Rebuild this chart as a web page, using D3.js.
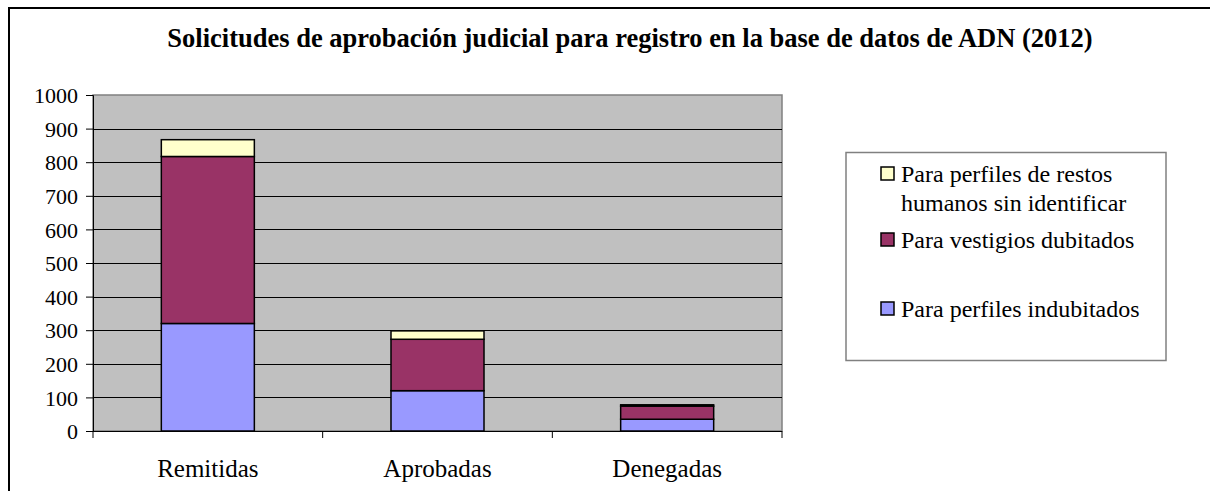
<!DOCTYPE html>
<html>
<head>
<meta charset="utf-8">
<script src="https://cdn.jsdelivr.net/npm/d3@7"></script>
<style>
  body { margin: 0; background: #fff; }
  svg text { font-family: 'Liberation Serif', 'Times New Roman', Times, serif !important; fill: #000; }
</style>
</head>
<body>
<svg id="chart" width="1210" height="491"></svg>
<script>
// donnees
var categorias = ["Remitidas", "Aprobadas", "Denegadas"];
var series = ["indubitados", "dubitados", "restos"];
var perfiles_indubitados = [320, 120, 35];
var vestigios_dubitados = [497, 153, 39];
var restos_humanos = [50, 25, 4];
var yTicks = [0, 100, 200, 300, 400, 500, 600, 700, 800, 900, 1000];

var etiquetas = {
    restos: ["Para perfiles de restos", "humanos sin identificar"],
    dubitados: ["Para vestigios dubitados"],
    indubitados: ["Para perfiles indubitados"]
};
var couleurs = {indubitados: "#9999FF", dubitados: "#993366", restos: "#FFFFCC"};
var police = "'Liberation Serif', 'Times New Roman', serif";

let svg = d3.select("#chart").style("font-family", police);

// cadre exterieur
svg.append("rect")
    .attr("x", 9).attr("y", 8)
    .attr("width", 1220).attr("height", 500)
    .attr("fill", "none").attr("stroke", "#000").attr("stroke-width", 2);

svg.append("text")
    .attr("x", 630).attr("y", 47)
    .attr("text-anchor", "middle")
    .style("font-family", police)
    .style("font-size", "26.5px").style("font-weight", "bold")
    .text("Solicitudes de aprobación judicial para registro en la base de datos de ADN (2012)");

let plot = {left: 93, right: 782, top: 95, bottom: 431};

let data = categorias.map((c, i) => ({
    cat: c,
    indubitados: perfiles_indubitados[i],
    dubitados: vestigios_dubitados[i],
    restos: restos_humanos[i]
}));

let x = d3.scaleBand().domain(categorias).range([plot.left, plot.right]).padding(0);
let y = d3.scaleLinear().domain([0, 1000]).range([plot.bottom, plot.top]);

// fond gris
svg.append("rect")
    .attr("x", plot.left).attr("y", plot.top)
    .attr("width", plot.right - plot.left).attr("height", plot.bottom - plot.top)
    .attr("fill", "#C0C0C0").attr("stroke", "#808080").attr("stroke-width", 1.5);

// grille
svg.append("g").selectAll("line")
    .data(yTicks.filter(d => d > 0 && d < 1000))
    .enter().append("line")
    .attr("x1", plot.left).attr("x2", plot.right)
    .attr("y1", d => Math.round(y(d)) + 0.5).attr("y2", d => Math.round(y(d)) + 0.5)
    .attr("stroke", "#000").attr("stroke-width", 1);

// axe y
let yAxis = svg.append("g")
    .attr("transform", "translate(" + plot.left + ",0)")
    .call(d3.axisLeft(y).tickValues(yTicks).tickFormat(d3.format("d")).tickSize(7).tickPadding(8));
yAxis.attr("font-family", null);
yAxis.select(".domain").attr("stroke", "#000");
yAxis.selectAll("text")
    .style("font-family", police)
    .style("font-size", "22px").attr("dy", "0.35em");

// axe x
let xAxis = svg.append("g")
    .attr("transform", "translate(0," + plot.bottom + ")");
xAxis.append("line")
    .attr("x1", plot.left).attr("x2", plot.right)
    .attr("y1", 0.5).attr("y2", 0.5).attr("stroke", "#000");
xAxis.selectAll(".tk")
    .data(categorias.map(c => x(c)).concat([plot.right]))
    .enter().append("line")
    .attr("x1", d => d).attr("x2", d => d)
    .attr("y1", 0).attr("y2", 7).attr("stroke", "#000");
xAxis.selectAll(".lbl")
    .data(categorias)
    .enter().append("text")
    .attr("x", d => x(d) + x.bandwidth() / 2)
    .attr("y", 46)
    .attr("text-anchor", "middle")
    .style("font-family", police)
    .style("font-size", "25px")
    .text(d => d);

// barres empilees
let stack = d3.stack().keys(series)(data);
let barW = x.bandwidth() * 0.405;

svg.append("g").selectAll("g")
    .data(stack)
    .enter().append("g")
    .attr("fill", d => couleurs[d.key])
    .selectAll("rect")
    .data(d => d)
    .enter().append("rect")
    .attr("x", d => x(d.data.cat) + (x.bandwidth() - barW) / 2)
    .attr("y", d => y(d[1]))
    .attr("width", barW)
    .attr("height", d => y(d[0]) - y(d[1]))
    .attr("stroke", "#000").attr("stroke-width", 1.5);

// legende
let leg = svg.append("g");
leg.append("rect")
    .attr("x", 846).attr("y", 152.5)
    .attr("width", 320).attr("height", 208)
    .attr("fill", "#fff").attr("stroke", "#808080").attr("stroke-width", 1.5);

let legItems = [
    {key: "restos", y: 182},
    {key: "dubitados", y: 248},
    {key: "indubitados", y: 317}
];
legItems.forEach(it => {
    leg.append("rect")
        .attr("x", 881).attr("y", it.y - 15)
        .attr("width", 13).attr("height", 13)
        .attr("fill", couleurs[it.key]).attr("stroke", "#000").attr("stroke-width", 1.5);
    leg.append("text")
        .attr("x", 901).attr("y", it.y)
        .style("font-family", police)
        .style("font-size", "24px")
        .selectAll("tspan")
        .data(etiquetas[it.key])
        .enter().append("tspan")
        .attr("x", 901)
        .attr("dy", (d, i) => i === 0 ? 0 : 29)
        .text(d => d);
});
</script>
</body>
</html>
